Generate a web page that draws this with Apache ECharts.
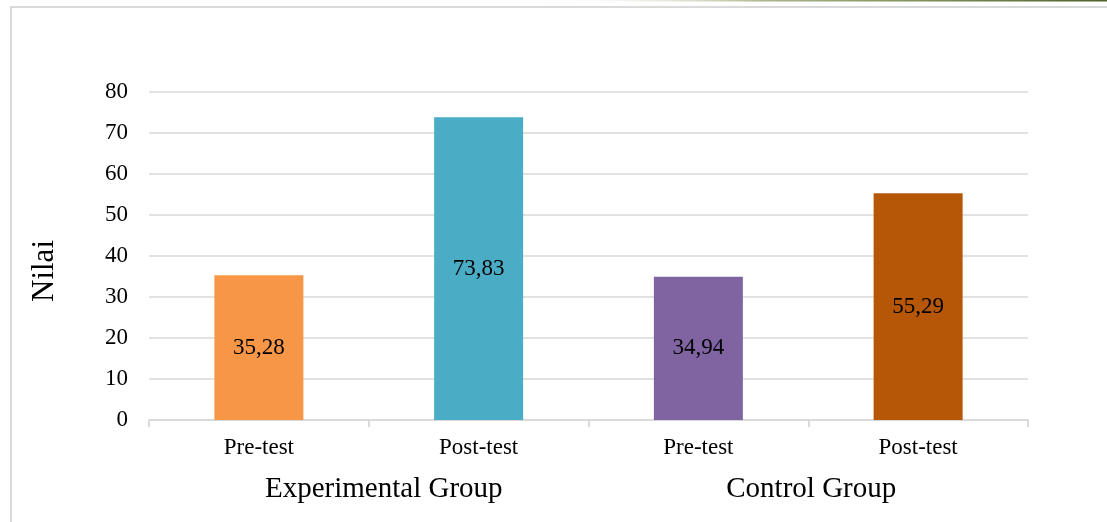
<!DOCTYPE html>
<html>
<head>
<meta charset="utf-8">
<script src="https://cdn.jsdelivr.net/npm/echarts@6/dist/echarts.min.js"></script>
<style>html,body{margin:0;padding:0;background:#fff;}#c{width:1107px;height:522px;}</style>
</head>
<body>
<div id="c"></div>
<script>
const categories = ['Pre-test', 'Post-test', 'Pre-test ', 'Post-test '];
const groups = ['Experimental Group', 'Control Group'];
const values = [35.28, 73.83, 34.94, 55.29];
const barColors = ['#F79646', '#4BACC6', '#8064A2', '#B65708'];
const yTicks = { min: 0, max: 80, interval: 10 };
const yName = 'Nilai';

const FONT = '"Liberation Serif", "Times New Roman", serif';
const chart = echarts.init(document.getElementById('c'));
chart.setOption({
  animation: false,
  backgroundColor: '#fff',
  textStyle: { fontFamily: FONT, color: '#000' },
  graphic: [
    { type: 'rect', shape: { x: 11, y: 7, width: 1200, height: 600 },
      style: { fill: 'none', stroke: '#d9d9d9', lineWidth: 2 }, silent: true },
    { type: 'rect', shape: { x: 540, y: 0, width: 567, height: 1.5 },
      style: { fill: new echarts.graphic.LinearGradient(0, 0, 1, 0, [
        { offset: 0, color: 'rgba(255,255,255,0)' },
        { offset: 0.4, color: '#a9b58a' },
        { offset: 1, color: '#4f6228' }]) }, silent: true }
  ],
  grid: { left: 149, right: 79, top: 92, bottom: 102, containLabel: false },
  xAxis: [
    {
      type: 'category', data: categories, position: 'bottom',
      axisLine: { lineStyle: { color: '#d9d9d9', width: 2 } },
      axisTick: { show: true, length: 7, alignWithLabel: false, lineStyle: { color: '#d9d9d9', width: 2 } },
      axisLabel: { fontFamily: FONT, fontSize: 23, color: '#000', margin: 16,
        formatter: v => v.trim() }
    },
    {
      type: 'category', data: groups, position: 'bottom',
      axisLine: { show: false }, axisTick: { show: false },
      axisLabel: { fontFamily: FONT, fontSize: 29, color: '#000', margin: 55,
        formatter: v => v === 'Experimental Group' ? '{a|' + v + '}' : '{b|' + v + '}',
        rich: {
          a: { fontFamily: FONT, fontSize: 29, color: '#000', padding: [0, 0, 0, 30] },
          b: { fontFamily: FONT, fontSize: 29, color: '#000', padding: [0, 0, 0, 6] }
        } }
    }
  ],
  yAxis: {
    type: 'value', min: yTicks.min, max: yTicks.max, interval: yTicks.interval,
    name: yName, nameLocation: 'middle', nameGap: 89, nameRotate: 90,
    nameTextStyle: { fontFamily: FONT, fontSize: 31, color: '#000', padding: [0, 30, 0, 0] },
    axisLine: { show: false }, axisTick: { show: false },
    axisLabel: { fontFamily: FONT, fontSize: 23, color: '#000', margin: 21 },
    splitLine: { lineStyle: { color: '#d9d9d9', width: 1.5 } }
  },
  series: [{
    type: 'bar', xAxisIndex: 0, barWidth: 89,
    data: values.map((v, i) => ({ value: v, itemStyle: { color: barColors[i] } })),
    label: { show: true, position: 'inside', fontFamily: FONT, fontSize: 23, color: '#000',
      formatter: p => p.value.toFixed(2).replace('.', ',') }
  }]
});
</script>
</body>
</html>
